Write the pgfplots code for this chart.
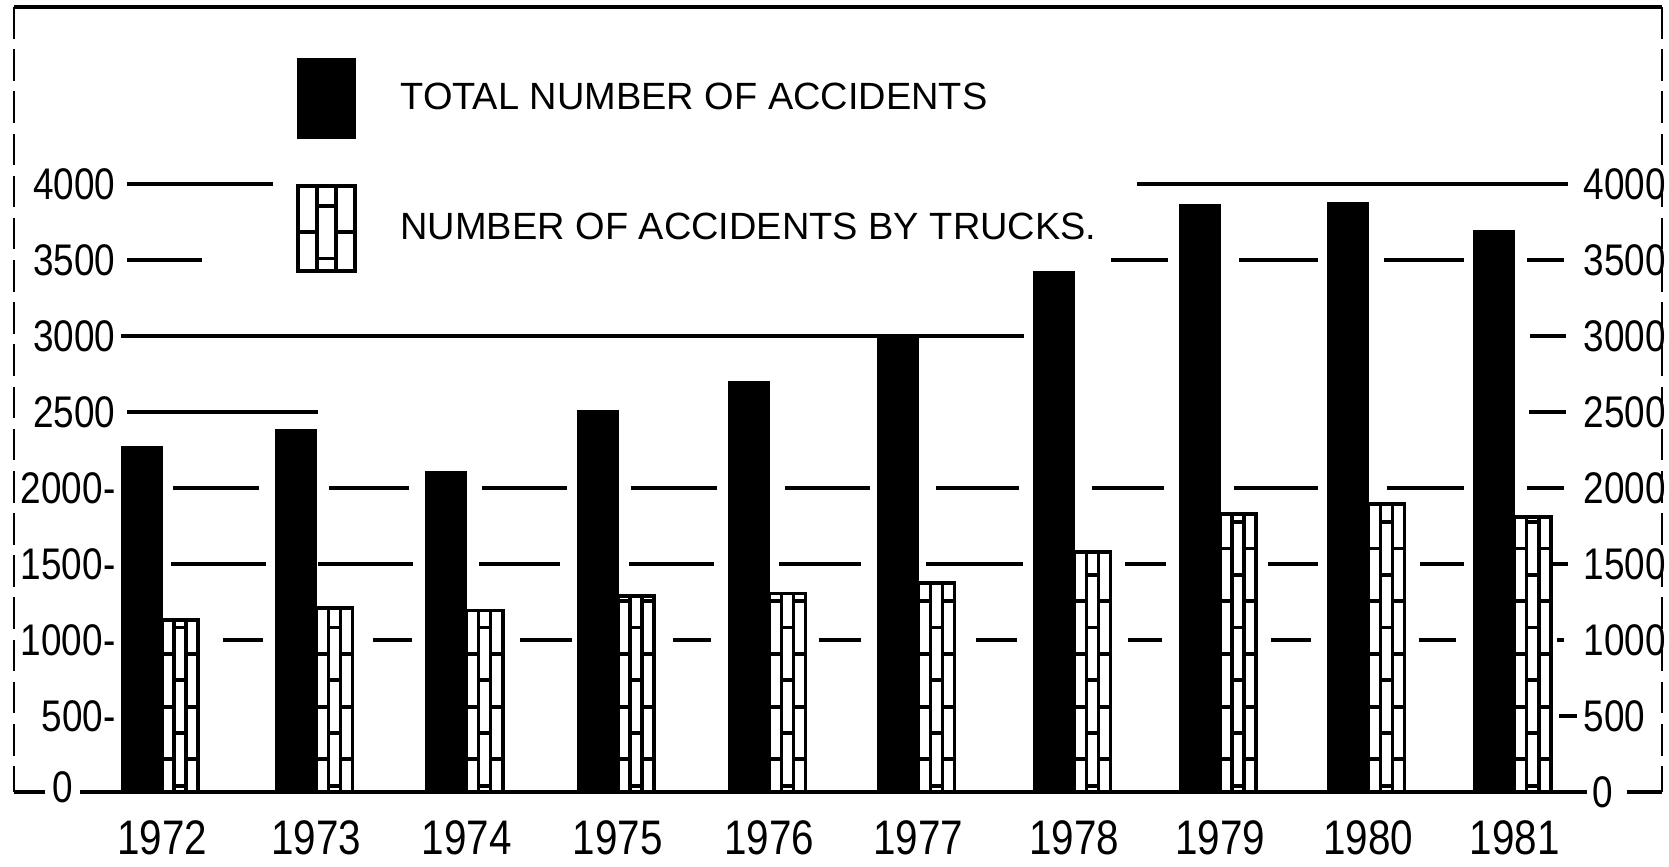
\documentclass[border=0pt]{standalone}
\usepackage{fontspec}
\setmainfont{Liberation Sans}
\usepackage{graphicx}
\usepackage{pgfplots}
\pgfplotsset{compat=1.18}
\usepackage{pgfplotstable}
\usetikzlibrary{patterns}

\pgfdeclarepatternformonly{hmarksA}{\pgfqpoint{-1pt}{-1pt}}{\pgfqpoint{4pt}{16pt}}{\pgfqpoint{3pt}{15pt}}{%
  \pgfsetlinewidth{1.1pt}\pgfpathmoveto{\pgfqpoint{-0.1pt}{0.6pt}}\pgfpathlineto{\pgfqpoint{3.1pt}{0.6pt}}\pgfusepath{stroke}}
\pgfdeclarepatternformonly{hmarksB}{\pgfqpoint{-1pt}{-1pt}}{\pgfqpoint{4pt}{16pt}}{\pgfqpoint{3pt}{15pt}}{%
  \pgfsetlinewidth{1.1pt}\pgfpathmoveto{\pgfqpoint{-0.1pt}{8.1pt}}\pgfpathlineto{\pgfqpoint{3.1pt}{8.1pt}}\pgfusepath{stroke}}

% pos = position of the group (hand-drawn spacing), total, trucks
\pgfplotstableread{
pos total trucks
0     2270 1130
1.027 2380 1210
2.027 2110 1195
3.033 2510 1290
4.040 2700 1305
5.033 2995 1375
6.070 3420 1580
7.040 3865 1830
8.027 3875 1895
9.000 3695 1810
}\datatable

\newcommand{\ylfont}{\fontsize{10.5}{12}\selectfont}
\newcommand{\tall}[1]{\scalebox{1}[1.2]{#1}}
\newcommand{\seg}[3]{\draw[line width=0.9pt] (axis cs:#1,#3) -- (axis cs:#2,#3);}
\newcommand{\yll}[2]{\node[anchor=east, font=\ylfont, inner sep=0pt] at (axis cs:-0.306,#1) {\tall{#2}};}
\newcommand{\ylr}[1]{\node[anchor=west, font=\ylfont, inner sep=0pt] at (axis cs:9.455,#1) {\tall{#1}};}

\begin{document}
\begin{tikzpicture}
\begin{axis}[
  scale only axis, width=164.8mm, height=78.5mm,
  xmin=-0.985, xmax=9.98, ymin=0, ymax=5164,
  axis line style={draw=none},
  xtick={0,1.027,2.027,3.033,4.040,5.033,6.070,7.040,8.027,9},
  xticklabels={\tall{1972},\tall{1973},\tall{1974},\tall{1975},\tall{1976},\tall{1977},\tall{1978},\tall{1979},\tall{1980},\tall{1981}},
  xtick style={draw=none}, ytick=\empty,
  xticklabel style={anchor=center, yshift=-4.6mm, font=\fontsize{11.5}{13}\selectfont},
  clip=false,
  legend style={at={(axis cs:0.8916,4828)}, anchor=north west, draw=none, fill=none,
    inner sep=0pt, outer sep=0pt, row sep=4.5mm,
    font=\fontsize{10.8}{13}\selectfont, nodes={inner sep=0pt}},
  legend cell align=left,
]
% hand-drawn style grid segments
\seg{-0.233}{0.739}{4000}\seg{6.487}{9.355}{4000}
\seg{-0.233}{0.266}{3500}\seg{6.314}{6.693}{3500}\seg{7.166}{7.691}{3500}\seg{8.130}{8.663}{3500}\seg{9.082}{9.328}{3500}
\seg{-0.273}{5.735}{3000}\seg{9.102}{9.341}{3000}
\seg{-0.233}{1.038}{2500}\seg{9.095}{9.341}{2500}
\seg{0.073}{0.646}{2000}\seg{1.111}{1.644}{2000}\seg{2.129}{2.695}{2000}\seg{3.120}{3.693}{2000}\seg{4.145}{4.711}{2000}
\seg{5.150}{5.702}{2000}\seg{6.188}{6.667}{2000}\seg{7.132}{7.691}{2000}\seg{8.150}{8.663}{2000}\seg{9.082}{9.328}{2000}
\seg{0.060}{0.692}{1500}\seg{1.038}{1.667}{1500}\seg{2.109}{2.648}{1500}\seg{3.107}{3.673}{1500}\seg{4.105}{4.651}{1500}
\seg{5.083}{5.728}{1500}\seg{6.407}{6.680}{1500}\seg{7.359}{7.691}{1500}\seg{8.370}{8.663}{1500}\seg{9.222}{9.355}{1500}
\seg{0.406}{0.669}{1000}\seg{1.404}{1.666}{1000}\seg{2.382}{2.728}{1000}\seg{3.400}{3.652}{1000}\seg{4.371}{4.651}{1000}
\seg{5.416}{5.689}{1000}\seg{6.427}{6.653}{1000}\seg{7.379}{7.645}{1000}\seg{8.363}{8.610}{1000}\seg{9.282}{9.328}{1000}
\seg{9.295}{9.415}{500}
% frame and baseline
\draw[line width=1.3pt] (axis cs:-0.985,5164) -- (axis cs:9.98,5164);
\draw[line width=0.6pt, dash pattern=on 9pt off 3pt] (axis cs:-0.985,5164) -- (axis cs:-0.985,0);
\draw[line width=0.5pt, dash pattern=on 9pt off 3pt] (axis cs:9.98,5164) -- (axis cs:9.98,0);
\draw[line width=1pt] (axis cs:-0.985,0) -- (axis cs:-0.778,0);
\draw[line width=1pt] (axis cs:-0.546,0) -- (axis cs:9.481,0);
\draw[line width=1pt] (axis cs:9.747,0) -- (axis cs:9.98,0);
% bars
\addplot[ybar, bar width=0.27, bar shift=-0.135, fill=black, draw=black, forget plot]
  table[x=pos, y=total]{\datatable};
\addplot[ybar, bar width=0.08, bar shift=0.04, fill=white, draw=black, line width=1pt,
  postaction={pattern=hmarksA}, forget plot] table[x=pos, y=trucks]{\datatable};
\addplot[ybar, bar width=0.08, bar shift=0.12, fill=white, draw=black, line width=1pt,
  postaction={pattern=hmarksB}, forget plot] table[x=pos, y=trucks]{\datatable};
\addplot[ybar, bar width=0.08, bar shift=0.20, fill=white, draw=black, line width=1pt,
  postaction={pattern=hmarksA}, forget plot] table[x=pos, y=trucks]{\datatable};
% legend
\addlegendimage{legend image code/.code={\fill[black] (0mm,-4mm) rectangle (5.7mm,4mm); \path (10.2mm,0mm);}}
\addlegendentry{TOTAL NUMBER OF ACCIDENTS}
\addlegendimage{legend image code/.code={%
  \fill[white] (0mm,-4.25mm) rectangle (5.7mm,4.25mm);
  \path[pattern=hmarksA] (0mm,-4.25mm) rectangle (1.9mm,4.25mm);
  \path[pattern=hmarksB] (1.9mm,-4.25mm) rectangle (3.8mm,4.25mm);
  \path[pattern=hmarksA] (3.8mm,-4.25mm) rectangle (5.7mm,4.25mm);
  \draw[line width=1pt] (0mm,-4.25mm) rectangle (5.7mm,4.25mm)
     (1.9mm,-4.25mm) -- (1.9mm,4.25mm) (3.8mm,-4.25mm) -- (3.8mm,4.25mm);
  \path (9.9mm,0mm);}}
\addlegendentry{NUMBER OF ACCIDENTS BY TRUCKS.}
% y labels left
\yll{4000}{4000}\yll{3500}{3500}\yll{3000}{3000}\yll{2500}{2500}
\yll{2000}{2000-}\yll{1500}{1500-}\yll{1000}{1000-}\yll{500}{500-}
\node[font=\ylfont, inner sep=0pt] at (axis cs:-0.659,30) {\tall{0}};
% y labels right
\ylr{4000}\ylr{3500}\ylr{3000}\ylr{2500}\ylr{2000}\ylr{1500}\ylr{1000}\ylr{500}
\node[font=\ylfont, inner sep=0pt] at (axis cs:9.587,0) {\tall{0}};
\end{axis}
\path (-1.4mm,-7.3mm) rectangle (165.5mm,79.2mm);
\end{tikzpicture}
\end{document}
